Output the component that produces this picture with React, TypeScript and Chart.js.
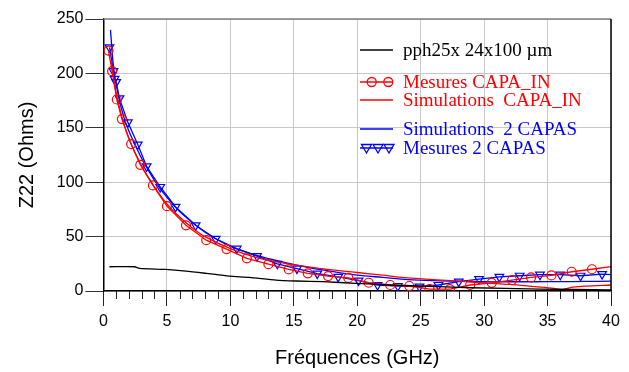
import React, { useEffect, useRef } from "react";
import { Chart, registerables } from "chart.js";

Chart.register(...registerables);

// ---- Data ----
const blackFreq = [0.47, 2.45, 2.84, 4.9, 6.5, 8.1, 9.9, 11.5, 13.6, 15.2, 17.3, 19.9, 22.6, 24.9, 29, 34.4, 40];
const blackZ = [22.3, 22.3, 20.8, 19.8, 18.3, 16.2, 13.7, 12.5, 10, 9.2, 8.6, 7, 5.5, 4.6, 3, 1.8, 1];

const redMeasFreq = [0.39, 0.68, 1.05, 1.45, 2.18, 2.9, 3.9, 5.0, 6.5, 8.1, 9.7, 11.3, 13.0, 14.6, 16.1, 17.7, 19.3, 20.9, 22.6, 24.1, 25.7, 27.3, 28.9, 30.6, 32.2, 33.7, 35.3, 36.9, 38.5, 40];
const redMeasZ = [221, 202, 176, 158, 135, 116, 97, 78, 60.4, 46.7, 38.5, 30, 24.7, 19.8, 16.2, 13.7, 12, 7.6, 5.5, 4.6, 1.8, 1.8, 5.5, 7.5, 10, 12.5, 14.3, 17.7, 20, 22.5];

const redSimFreq = [0.6, 1, 1.5, 2, 3, 4, 5, 6, 7, 8, 10, 12, 14, 16, 18, 20, 22, 24, 26, 28, 30, 32, 34, 35.5, 36.2, 37, 38, 40];
const redSimZ = [212, 182, 158, 140, 115, 96, 80, 68, 58, 50, 39, 31, 26, 22.5, 19.5, 17, 14.5, 12, 10.5, 9, 7.5, 6, 4, 2.5, 1.5, 3.5, 4.5, 5.5];

const blueSimFreq = [0.55, 0.8, 1.2, 1.6, 2, 3, 4, 5, 6, 7, 8, 10, 12, 14, 16, 18, 20, 22, 24, 26, 28, 30, 32, 34, 36, 38, 40];
const blueSimZ = [240, 205, 178, 160, 147, 122, 102, 86, 73, 63, 54, 41, 33, 27, 22, 18, 14.5, 12.5, 10.5, 9.5, 9, 8.5, 8.5, 8.5, 8.6, 8.8, 9];

const blueMeasFreq = [0.47, 0.79, 0.87, 1.0, 1.26, 1.92, 2.7, 3.4, 4.47, 5.68, 7.26, 8.84, 10.5, 12.1, 13.7, 15.25, 16.85, 18.5, 20.1, 21.6, 23.2, 24.9, 26.4, 28.0, 29.6, 31.2, 32.8, 34.4, 36, 37.6, 39.3, 40];
const blueMeasZ = [224, 202, 195, 192, 177, 155, 134.6, 114.5, 95.6, 77.3, 60.4, 48, 39, 32, 25, 20.6, 16, 13, 9.5, 5.5, 4.6, 4, 5.5, 8.6, 11, 13, 14, 15, 15, 14, 15.5, 15];

const legendLabels = [
  "pph25x 24x100 µm",
  "Mesures CAPA_IN",
  "Simulations  CAPA_IN",
  "Simulations  2 CAPAS",
  "Mesures 2 CAPAS",
];

const xTitle = "Fréquences (GHz)";
const yTitle = "Z22 (Ohms)";

const RED = "#ff0000";
const BLUE = "#0000ff";

const pts = (xs: number[], ys: number[]) => xs.map((x, i) => ({ x, y: ys[i] }));

const decorPlugin = {
  id: "decor",
  afterDraw(chart: any) {
    const { ctx, chartArea: ca, scales } = chart;
    const xs = scales.x;
    ctx.save();
    // top border (gray) and right border (black)
    ctx.lineWidth = 1.5;
    ctx.strokeStyle = "#808080";
    ctx.beginPath();
    ctx.moveTo(ca.left, ca.top);
    ctx.lineTo(ca.right, ca.top);
    ctx.stroke();
    ctx.strokeStyle = "#000";
    ctx.beginPath();
    ctx.moveTo(ca.right, ca.top);
    ctx.lineTo(ca.right, ca.bottom);
    ctx.stroke();
    // minor x ticks
    ctx.lineWidth = 1;
    ctx.strokeStyle = "#222";
    for (let v = 1; v < 40; v++) {
      if (v % 5 === 0) continue;
      const px = Math.round(xs.getPixelForValue(v)) + 0.5;
      ctx.beginPath();
      ctx.moveTo(px, ca.bottom);
      ctx.lineTo(px, ca.bottom + 8);
      ctx.stroke();
    }
    ctx.restore();
  },
  afterDatasetsDraw(chart: any) {
    const { ctx } = chart;
    ctx.save();
    const x0 = 360, x1 = 393, tx = 403;
    const rows = [50, 82, 100, 129, 148];
    const colors = ["#000", RED, RED, BLUE, BLUE];
    ctx.font = "19px 'Liberation Serif', 'Times New Roman', serif";
    ctx.textBaseline = "middle";
    rows.forEach((y, i) => {
      ctx.strokeStyle = colors[i];
      ctx.lineWidth = 1.3;
      ctx.beginPath();
      ctx.moveTo(x0, y);
      ctx.lineTo(x1, y);
      ctx.stroke();
      if (i === 1) {
        [371.7, 388.3].forEach((cx) => {
          ctx.beginPath();
          ctx.arc(cx, y, 4.5, 0, Math.PI * 2);
          ctx.stroke();
        });
      }
      if (i === 4) {
        [366.5, 378, 389].forEach((cx) => {
          ctx.beginPath();
          ctx.moveTo(cx - 5, y - 3.5);
          ctx.lineTo(cx + 5, y - 3.5);
          ctx.lineTo(cx, y + 5);
          ctx.closePath();
          ctx.stroke();
        });
      }
      ctx.fillStyle = colors[i];
      ctx.fillText(legendLabels[i], tx, y + 1);
    });
    ctx.restore();
  },
};

export default function App() {
  const ref = useRef<HTMLCanvasElement | null>(null);
  useEffect(() => {
    if (!ref.current) return;
    const tickFont = { family: "'Liberation Sans', Arial, sans-serif", size: 16 };
    const titleFont = { family: "'Liberation Sans', Arial, sans-serif", size: 20 };
    const chart = new Chart(ref.current, {
      type: "line",
      data: {
        datasets: [
          {
            label: legendLabels[0],
            data: pts(blackFreq, blackZ),
            borderColor: "#000",
            borderWidth: 1.3,
            pointRadius: 0,
            tension: 0.2,
          },
          {
            label: legendLabels[1],
            data: pts(redMeasFreq, redMeasZ),
            borderColor: RED,
            borderWidth: 1.3,
            pointStyle: "circle",
            pointRadius: redMeasFreq.map((_, i) => (i === redMeasFreq.length - 1 ? 0 : 4.5)),
            pointBorderColor: RED,
            pointBackgroundColor: "rgba(0,0,0,0)",
            pointBorderWidth: 1.2,
            tension: 0,
          },
          {
            label: legendLabels[2],
            data: pts(redSimFreq, redSimZ),
            borderColor: RED,
            borderWidth: 1.3,
            pointRadius: 0,
            tension: 0.3,
          },
          {
            label: legendLabels[3],
            data: pts(blueSimFreq, blueSimZ),
            borderColor: BLUE,
            borderWidth: 1.3,
            pointRadius: 0,
            tension: 0.3,
          },
          {
            label: legendLabels[4],
            data: pts(blueMeasFreq, blueMeasZ),
            borderColor: BLUE,
            borderWidth: 1.3,
            pointStyle: "triangle",
            pointRotation: 180,
            pointRadius: blueMeasFreq.map((_, i) => (i === blueMeasFreq.length - 1 ? 0 : 5)),
            pointBorderColor: BLUE,
            pointBackgroundColor: "rgba(0,0,0,0)",
            pointBorderWidth: 1.2,
            tension: 0,
          },
        ],
      },
      options: {
        responsive: false,
        animation: false,
        layout: { padding: { top: 19, right: 18, left: 0, bottom: 0 } },
        plugins: { legend: { display: false }, tooltip: { enabled: false } },
        scales: {
          x: {
            type: "linear",
            min: 0,
            max: 40,
            afterFit: (s: any) => {
              s.height = 81;
            },
            ticks: { stepSize: 5, color: "#000", font: tickFont, padding: 6, maxRotation: 0 },
            grid: {
              color: "#c8c8c8",
              lineWidth: 1,
              tickLength: 15,
              tickColor: "#222",
            },
            border: { color: "#000", width: 1.5 },
            title: {
              display: true,
              text: xTitle,
              color: "#000",
              font: titleFont,
              padding: { top: 0, bottom: 2 },
            },
          },
          y: {
            type: "linear",
            min: 0,
            max: 250,
            afterFit: (s: any) => {
              s.width = 103.5;
            },
            ticks: { stepSize: 50, color: "#000", font: tickFont, padding: 2 },
            grid: {
              color: "#c8c8c8",
              lineWidth: 1,
              tickLength: 18,
              tickColor: "#333",
            },
            border: { color: "#000", width: 1.5 },
            title: {
              display: true,
              text: yTitle,
              color: "#000",
              font: titleFont,
              padding: { top: 15, bottom: 0 },
            },
          },
        },
      },
      plugins: [decorPlugin],
    } as any);
    return () => chart.destroy();
  }, []);
  return (
    <div style={{ position: "absolute", left: 0, top: 0, width: 629, height: 372, background: "#fff" }}>
      <canvas ref={ref} width={629} height={372} style={{ width: 629, height: 372 }} />
    </div>
  );
}
